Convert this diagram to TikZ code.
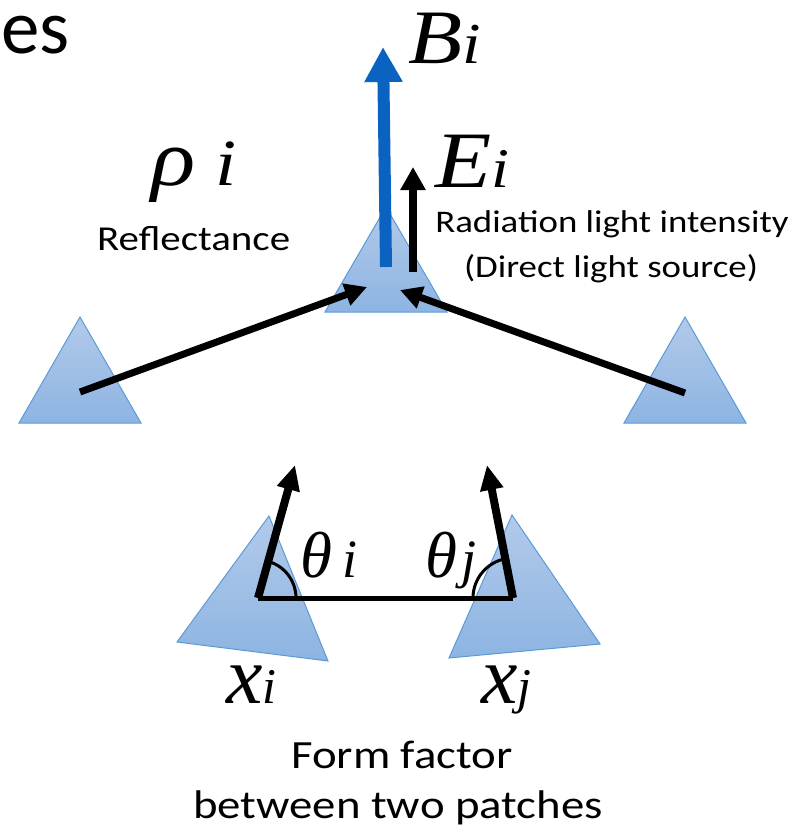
\documentclass[tikz,border=0pt]{standalone}
\usepackage{fontspec}
\setmainfont{Carlito}
\newfontfamily\bodyfont[FakeStretch=1.17]{Carlito}
\newfontfamily\symfont{Liberation Serif}
\newfontfamily\symwide[FakeStretch=1.15]{Liberation Serif}
\usetikzlibrary{arrows.meta,angles}

\definecolor{patchtop}{RGB}{178,202,234}
\definecolor{patchbot}{RGB}{141,180,226}
\definecolor{patchedge}{RGB}{91,155,213}
\definecolor{raddblue}{RGB}{10,99,193}

\newcommand{\sz}[1]{\fontsize{#1}{#1}\selectfont}

\begin{document}
\begin{tikzpicture}[
    x=1pt, y=-1pt,
    patch/.style={draw=patchedge,line width=1pt,top color=patchtop,bottom color=patchbot},
    flux/.style={line width=7pt,-{Triangle[length=22pt,width=22pt]}},
    normal/.style={line width=8pt,-{Triangle[length=25pt,width=22pt]}},
    sym/.style={inner sep=0pt,anchor=base west,font=\symfont\itshape},
    symw/.style={sym,font=\symwide\itshape},
    txt/.style={inner sep=0pt,font=\bodyfont\sz{31.5}}
]
\useasboundingbox (0,0) rectangle (796,835);

% patches
\draw[patch] (80,317) -- (141,423) -- (19,423) -- cycle;
\draw[patch] (386,207) -- (447,312) -- (325,312) -- cycle;
\draw[patch] (685,317) -- (746,423) -- (624,423) -- cycle;
\draw[patch] (269,516) -- (328,661) -- (177,642) -- cycle;
\draw[patch] (512,515) -- (600,644) -- (449,658) -- cycle;

\coordinate (pL) at (80,392);
\coordinate (pR) at (685,393);
\coordinate (hitL) at (367,287);
\coordinate (hitR) at (400,290);
\coordinate (bBase) at (386,267);
\coordinate (bTip) at (383,47);
\coordinate (eBase) at (413,272);
\coordinate (eTip) at (413,167);
\coordinate (Pi) at (258,598);
\coordinate (Pj) at (513,598);
\coordinate (Ni) at (295,465);
\coordinate (Nj) at (487,465);

% light exchange
\draw[flux] (pL) -- (hitL);
\draw[flux] (pR) -- (hitR);
\draw[raddblue,line width=12pt,-{Triangle[length=35pt,width=36pt]}] (bBase) -- (bTip);
\draw[line width=8pt,-{Triangle[length=23pt,width=24pt]}] (eBase) -- (eTip);

% form factor
\draw[line width=5pt] (Pi) -- (Pj);
\draw[normal] (Pi) -- (Ni);
\draw[normal] (Pj) -- (Nj);
\pic[draw,line width=3pt,angle radius=38pt] {angle=Pj--Pi--Ni};
\pic[draw,line width=3pt,angle radius=40pt] {angle=Nj--Pj--Pi};

% labels
\node[inner sep=0pt,anchor=base west,font=\sz{77}] (es) at (1,53) {es};
\node[symw] (rho) at (151,185) {\sz{80}ρ\hspace{20pt}\sz{66}i};
\node[txt,anchor=base west,font=\bodyfont\sz{35}] (refl) at (97,250) {Reflectance};
\node[symw] (B) at (408,63) {\sz{77}B\sz{58}i};
\node[symw] (E) at (435,187) {\sz{80}E\sz{56}i};
\node[txt,anchor=base] (rad1) at (612,232) {Radiation light intensity};
\node[txt,anchor=base] (rad2) at (611,277) {(Direct light source)};
\node[sym] (thi) at (300,577) {\sz{65}θ\hspace{10pt}\sz{54}i};
\node[sym] (thj) at (425,577) {\sz{65}θ\hspace{4pt}\sz{54}j};
\node[sym] (xi) at (226,703) {\sz{82}x\sz{50}i};
\node[sym] (xj) at (481,703) {\sz{82}x\sz{50}j};
\node[txt,anchor=base,font=\bodyfont\sz{40}] (ff1) at (402,768) {Form factor};
\node[txt,anchor=base,font=\bodyfont\sz{40}] (ff2) at (398,818) {between two patches};

\end{tikzpicture}
\end{document}
